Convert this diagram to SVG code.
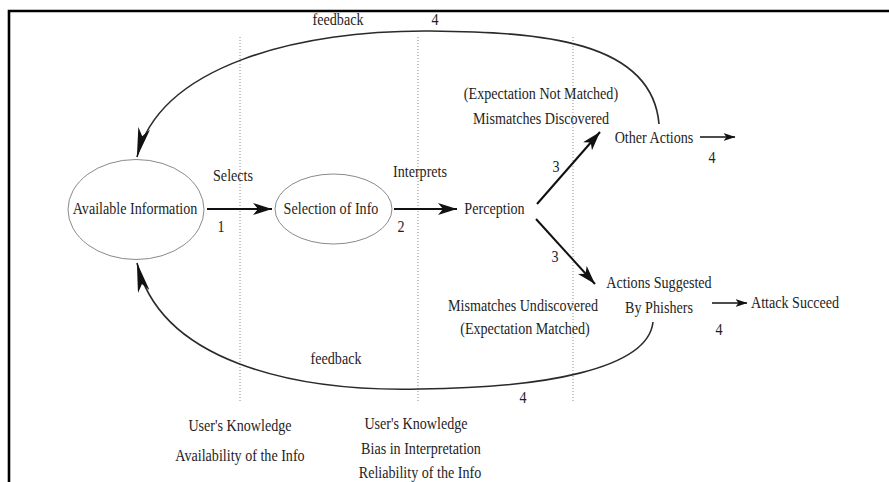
<svg xmlns="http://www.w3.org/2000/svg" width="889" height="482" viewBox="0 0 889 482">
  <style>
    .t { font-family: "Liberation Serif", "Times New Roman", serif; font-size: 17px; text-anchor: middle; fill: #1e1e1e; }
    .node { fill: none; stroke: #8a8a8a; stroke-width: 1; }
    .guide { stroke: #8c8c8c; stroke-width: 1; stroke-dasharray: 1 2; fill: none; }
    .arrow { stroke: #111; stroke-width: 2; fill: none; }
    .small { stroke: #111; stroke-width: 1.4; fill: none; }
    .loop { stroke: #2a2a2a; stroke-width: 1.6; fill: none; }
    .frame { stroke: #000; stroke-width: 2.6; fill: none; }
  </style>
  <defs>
    <marker id="head" markerUnits="userSpaceOnUse" viewBox="0 0 20 12" markerWidth="20" markerHeight="12" refX="19" refY="6" orient="auto">
      <path d="M0,0 L19,6 L0,12 L5,6 Z" fill="#111"/>
    </marker>
    <marker id="headSmall" markerUnits="userSpaceOnUse" viewBox="0 0 12 8" markerWidth="12" markerHeight="8" refX="11.5" refY="4" orient="auto">
      <path d="M0,0 L12,4 L0,8 L3,4 Z" fill="#111"/>
    </marker>
    <marker id="headLoop" markerUnits="userSpaceOnUse" viewBox="0 0 30 12" markerWidth="30" markerHeight="12" refX="29.5" refY="6" orient="auto">
      <path d="M0,0 L30,6 L0,12 L8,6 Z" fill="#111"/>
    </marker>
  </defs>

  <rect width="889" height="482" fill="#fff"/>

  <!-- frame -->
  <path class="frame" d="M9,482 L9,11 L889,11"/>

  <!-- stage separators -->
  <g id="separators">
    <line class="guide" x1="240" y1="37" x2="240" y2="403"/>
    <line class="guide" x1="418" y1="37" x2="418" y2="403"/>
    <line class="guide" x1="573" y1="37" x2="573" y2="403"/>
  </g>

  <!-- connectors -->
  <g id="connectors">
    <line class="arrow" x1="207" y1="209" x2="272" y2="209" marker-end="url(#head)"/>
    <line class="arrow" x1="394" y1="209" x2="457" y2="209" marker-end="url(#head)"/>
    <line class="arrow" x1="537" y1="204" x2="600" y2="132" marker-end="url(#head)"/>
    <line class="arrow" x1="536" y1="219" x2="595" y2="284" marker-end="url(#head)"/>
    <line class="small" x1="700" y1="137" x2="735" y2="137" marker-end="url(#headSmall)"/>
    <line class="small" x1="712" y1="303" x2="747" y2="303" marker-end="url(#headSmall)"/>
    <path class="loop" d="M659,124 C652,40 540,32 430,31 C300,30 160,65 137,157" marker-end="url(#headLoop)"/>
    <path class="loop" d="M653,322 C648,370 540,388 420,389 C290,392 160,360 137,263" marker-end="url(#headLoop)"/>
  </g>

  <!-- nodes -->
  <g id="available-information">
    <ellipse class="node" cx="136" cy="209.5" rx="68" ry="50"/>
    <text class="t" transform="translate(135,214) scale(.83,1)">Available Information</text>
  </g>
  <g id="selection-of-info">
    <ellipse class="node" cx="333.5" cy="209" rx="58.5" ry="35"/>
    <text class="t" transform="translate(331,214) scale(.83,1)">Selection of Info</text>
  </g>
  <g id="perception">
    <text class="t" transform="translate(494.5,214) scale(.83,1)">Perception</text>
  </g>
  <g id="other-actions">
    <text class="t" transform="translate(654,143) scale(.83,1)">Other Actions</text>
  </g>
  <g id="actions-suggested">
    <text class="t" transform="translate(659,288) scale(.83,1)">Actions Suggested</text>
    <text class="t" transform="translate(659,313) scale(.83,1)">By Phishers</text>
  </g>
  <g id="attack-succeed">
    <text class="t" transform="translate(795,308) scale(.83,1)">Attack Succeed</text>
  </g>

  <!-- edge labels -->
  <g id="labels">
    <text class="t" transform="translate(233,181) scale(.83,1)">Selects</text>
    <text class="t" transform="translate(221,232) scale(.83,1)">1</text>
    <text class="t" transform="translate(420,177) scale(.83,1)">Interprets</text>
    <text class="t" transform="translate(401,232) scale(.83,1)">2</text>
    <text class="t" transform="translate(556,172) scale(.83,1)">3</text>
    <text class="t" transform="translate(555,262) scale(.83,1)">3</text>
    <text class="t" transform="translate(541,99) scale(.83,1)">(Expectation Not Matched)</text>
    <text class="t" transform="translate(541,124) scale(.83,1)">Mismatches Discovered</text>
    <text class="t" transform="translate(523,311) scale(.83,1)">Mismatches Undiscovered</text>
    <text class="t" transform="translate(525,334) scale(.83,1)">(Expectation Matched)</text>
    <text class="t" transform="translate(712,163) scale(.83,1)">4</text>
    <text class="t" transform="translate(719,335) scale(.83,1)">4</text>
    <text class="t" transform="translate(338,25) scale(.83,1)">feedback</text>
    <text class="t" transform="translate(435,25) scale(.83,1)">4</text>
    <text class="t" transform="translate(336,364) scale(.83,1)">feedback</text>
    <text class="t" transform="translate(523,403) scale(.83,1)">4</text>
  </g>

  <!-- factors under each stage -->
  <g id="factors">
    <text class="t" transform="translate(240,431) scale(.83,1)">User's Knowledge</text>
    <text class="t" transform="translate(240,461) scale(.83,1)">Availability of the Info</text>
    <text class="t" transform="translate(416,429) scale(.83,1)">User's Knowledge</text>
    <text class="t" transform="translate(421,454) scale(.83,1)">Bias in Interpretation</text>
    <text class="t" transform="translate(420,478) scale(.83,1)">Reliability of the Info</text>
  </g>
</svg>
